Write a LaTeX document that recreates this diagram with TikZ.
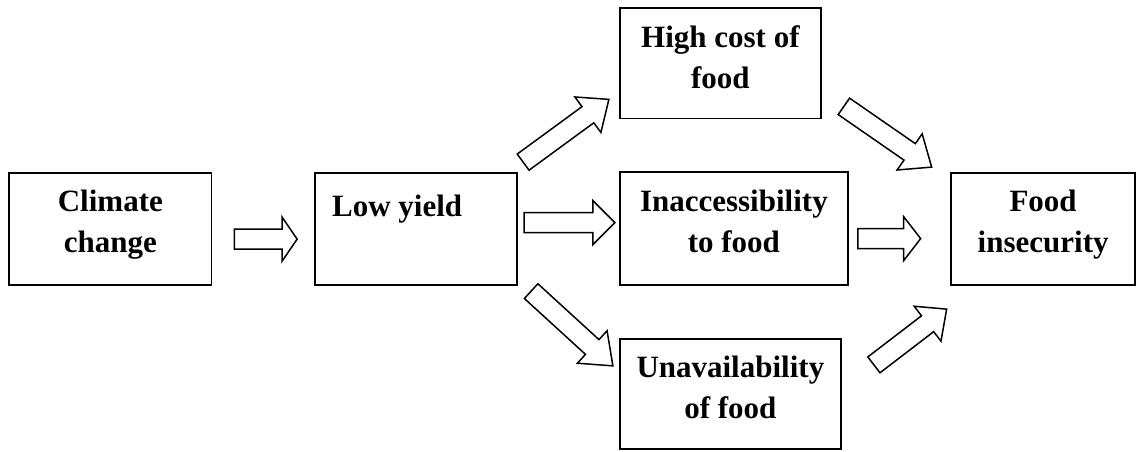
\documentclass[tikz,border=0pt]{standalone}
\usepackage{fontspec}
\setmainfont{Liberation Serif}
\usetikzlibrary{matrix,calc}

\newcommand{\shaftw}{4pt}
\newcommand{\headw}{8.8pt}
\newcommand{\boxtext}[4][\centering]{%
  \parbox[c][#3][t]{#2}{#1\rule{0pt}{15.6pt}#4}}
\newcommand{\blockarrow}[3]{%
  \coordinate (hb) at ($(#2)!#3!(#1)$);
  \draw[hollow] ($(#1)!\shaftw!90:(#2)$) -- ($(hb)!\shaftw!90:(#2)$)
    -- ($(hb)!\headw!90:(#2)$) -- (#2) -- ($(hb)!\headw!-90:(#2)$)
    -- ($(hb)!\shaftw!-90:(#2)$) -- ($(#1)!\shaftw!-90:(#2)$) -- cycle;
}

\begin{document}
\begin{tikzpicture}[
x=0.4pt, y=-0.4pt,
box/.style={
  draw,
  line width=0.7pt,
  inner sep=0pt,
  outer sep=0pt,
  font=\fontsize{12.4}{16.4}\selectfont\bfseries
  },
flow/.style={
  matrix of nodes,
  inner sep=0pt,
  nodes={box},
  column sep=40.6pt,
  row sep=20.8pt,
  column 3/.style={anchor=base west}
  },
hollow/.style={
  draw,
  fill=white,
  line width=0.6pt
  }
]
\useasboundingbox (0,0) rectangle (1139,452);
\matrix[flow, anchor=north west] (flow) at (8,7)
{
 & & \boxtext{80.4pt}{44pt}{High cost of\\food} & \\
\boxtext{80.8pt}{44.8pt}{Climate\\change} & \boxtext[\raggedright\rule{0pt}{17.6pt}\hspace*{7pt}]{80.8pt}{44.8pt}{Low yield}
  & \boxtext{91.2pt}{45.2pt}{Inaccessibility\\to food} & \boxtext{73.6pt}{44.8pt}{Food\\insecurity} \\
 & & \boxtext{88.4pt}{44pt}{Unavailability\\of food} & \\
};
% ends of the block arrows
\coordinate (t1) at ($(flow-2-1.east)+(23,10.5)$);
\coordinate (p1) at ($(flow-2-2.west)+(-17.5,10.5)$);
\coordinate (t2) at ($(flow-2-2.east)+(7.5,-6)$);
\coordinate (p2) at ($(flow-2-3.west)+(-5,-6)$);
\coordinate (t3) at ($(flow-2-3.east)+(10,10)$);
\coordinate (p3) at ($(flow-2-4.west)+(-30.5,10)$);
\coordinate (t4) at ($(flow-2-2.north east)+(6.5,-10.5)$);
\coordinate (p4) at ($(flow-1-3.south west)+(-11,-19)$);
\coordinate (t5) at ($(flow-2-2.south east)+(14.5,6.5)$);
\coordinate (p5) at ($(flow-3-3.north west)+(-7,27)$);
\coordinate (t6) at ($(flow-1-3.south east)+(23,-12)$);
\coordinate (p6) at ($(flow-2-4.north west)+(-19.5,-5.5)$);
\coordinate (t7) at ($(flow-3-3.north east)+(33,26)$);
\coordinate (p7) at ($(flow-2-4.south west)+(-4.5,24.5)$);
\foreach \tail/\tip/\head in {t1/p1/6pt, t2/p2/8.8pt, t3/p3/6.8pt, t4/p4/10.4pt,
  t5/p5/11.2pt, t6/p6/10.7pt, t7/p7/9.6pt}
{\blockarrow{\tail}{\tip}{\head}}

\end{tikzpicture}
\end{document}
